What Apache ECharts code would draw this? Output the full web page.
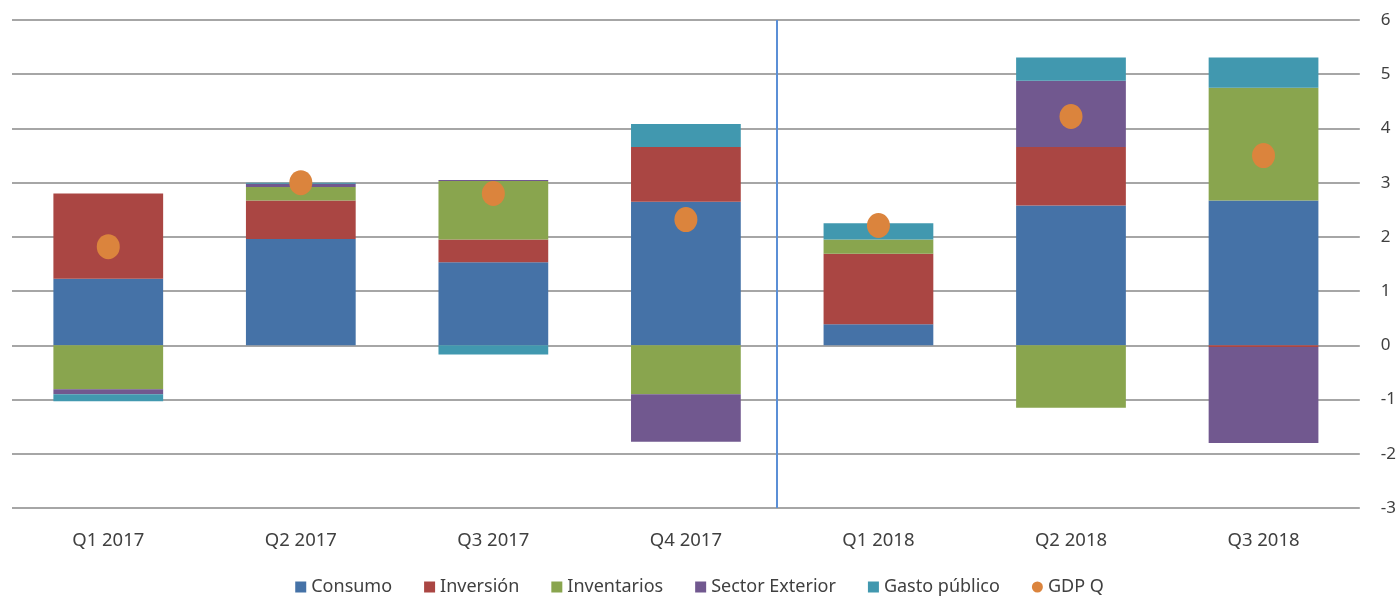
<!DOCTYPE html>
<html>
  <head>
    <meta charset="utf-8">
    <title>ECharts</title>
    <script src="https://cdn.jsdelivr.net/npm/echarts@6/dist/echarts.min.js"></script>
  </head>
  <body style="margin:0">
    <div id="main" style="width: 1399px;height:598px;"></div>
    <script type="text/javascript">
      // datos
      var quarters = ['Q1 2017', 'Q2 2017', 'Q3 2017', 'Q4 2017', 'Q1 2018', 'Q2 2018', 'Q3 2018']
      var consumo = [1.23, 1.96, 1.53, 2.65, 0.39, 2.58, 2.67]
      var inversion = [1.57, 0.71, 0.42, 1.01, 1.30, 1.08, -0.03]
      var inventarios = [-0.81, 0.25, 1.08, -0.90, 0.26, -1.15, 2.08]
      var sectorExterior = [-0.09, 0.06, 0.02, -0.88, 0, 1.22, -1.77]
      var gastoPublico = [-0.13, 0.02, -0.17, 0.42, 0.30, 0.43, 0.56]
      var gdpQ = [1.82, 3.00, 2.80, 2.32, 2.21, 4.22, 3.50]
      var yTicks = [-3, 6, 1]   // min, max, intervalo
      var divider = 3.97        // separacion 2017 / 2018

      var myChart = echarts.init(document.getElementById('main'));

      var font = 'Noto Sans'
      var txt = '#404040'

      function barSerie(name, data, color) {
        return {
          name: name,
          type: 'bar',
          stack: 'total',
          barWidth: '57%',
          data: data,
          itemStyle: { color: color }
        }
      }

      var option = {
        animation: false,
        grid: { left: 12, right: 37, top: 20, bottom: 90 },
        legend: {
          bottom: -3,
          left: 'center',
          itemWidth: 11,
          itemHeight: 11,
          itemGap: 32,
          textStyle: { fontFamily: font, fontSize: 18, color: txt },
          data: [
            { name: 'Consumo', icon: 'rect' },
            { name: 'Inversión', icon: 'rect' },
            { name: 'Inventarios', icon: 'rect' },
            { name: 'Sector Exterior', icon: 'rect' },
            { name: 'Gasto público', icon: 'rect' },
            { name: 'GDP Q', icon: 'circle' }
          ]
        },
        xAxis: [{
          type: 'category',
          data: quarters,
          axisLine: { show: false },
          axisTick: { show: false },
          axisLabel: { fontFamily: font, fontSize: 18.5, color: txt, margin: 23 }
        }, {
          type: 'value',
          min: 0,
          max: quarters.length,
          show: false
        }],
        yAxis: {
          type: 'value',
          position: 'right',
          min: yTicks[0],
          max: yTicks[1],
          interval: yTicks[2],
          axisLine: { show: false },
          axisTick: { show: false },
          axisLabel: { fontFamily: font, fontSize: 17, color: txt, margin: 21 },
          splitLine: { lineStyle: { color: '#a6a6a6', width: 2 } }
        },
        series: [
          barSerie('Consumo', consumo, '#4572a7'),
          barSerie('Inversión', inversion, '#aa4643'),
          barSerie('Inventarios', inventarios, '#89a54e'),
          barSerie('Sector Exterior', sectorExterior, '#71588f'),
          barSerie('Gasto público', gastoPublico, '#4198af'),
          {
            name: 'GDP Q',
            type: 'scatter',
            symbol: 'circle',
            symbolSize: [23, 25],
            data: gdpQ,
            itemStyle: { color: '#db843d', opacity: 1 },
            z: 5
          },
          {
            name: 'divisor',
            type: 'scatter',
            xAxisIndex: 1,
            data: [],
            markLine: {
              silent: true,
              symbol: 'none',
              label: { show: false },
              lineStyle: { color: '#5b8fd6', width: 2, type: 'solid' },
              data: [{ xAxis: divider }]
            }
          }
        ]
      };

      myChart.setOption(option);
    </script>
  </body>
</html>
